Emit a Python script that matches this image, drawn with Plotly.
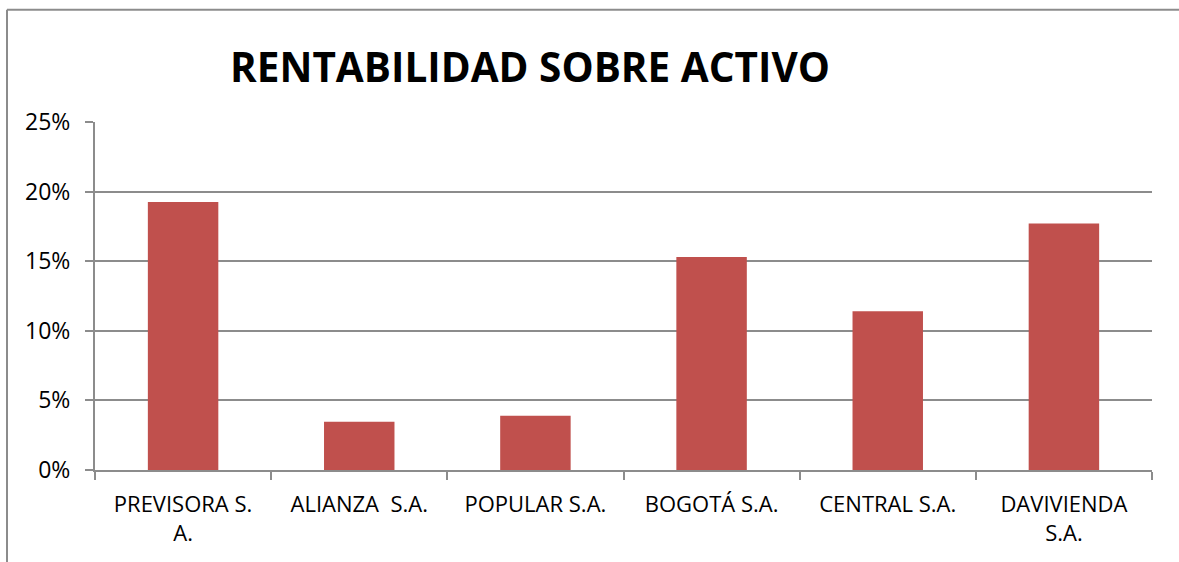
import plotly.graph_objects as go

categories = ["PREVISORA S.<br>A.", "ALIANZA  S.A.", "POPULAR S.A.", "BOGOTÁ S.A.", "CENTRAL S.A.", "DAVIVIENDA<br>S.A."]
values = [0.1925, 0.0346, 0.039, 0.153, 0.114, 0.177]
y_ticks = [0, 0.05, 0.10, 0.15, 0.20, 0.25]
y_tick_labels = ["0%", "5%", "10%", "15%", "20%", "25%"]

W, H = 1179, 562
L, R, T, B = 95, 27, 121.5, 92
pw, ph = W - L - R, H - T - B

fig = go.Figure(go.Bar(x=categories, y=values, marker=dict(color="#C0504D", line=dict(width=0)), width=0.4))

grid = "#8c8c8c"
fig.update_layout(
    width=W, height=H, margin=dict(l=L, r=R, t=T, b=B, autoexpand=False),
    paper_bgcolor="white", plot_bgcolor="white", showlegend=False,
    font=dict(family="Open Sans", color="black"),
    title=dict(text="<b>RENTABILIDAD SOBRE ACTIVO</b>", x=(530 - L) / pw, xanchor="center", xref="paper",
               y=1 - 68 / H, yanchor="middle", yref="container",
               font=dict(family="Open Sans", size=40.5, color="black")),
)
fig.update_xaxes(showgrid=False, showline=True, linecolor=grid, linewidth=2, ticks="outside",
                 tickson="boundaries", ticklen=8, tickcolor=grid, tickwidth=2,
                 tickfont=dict(size=22, family="Open Sans"), tickangle=0, ticklabelstandoff=14)
fig.update_yaxes(range=[0, 0.25], tickvals=y_ticks, ticktext=y_tick_labels, showgrid=True,
                 gridcolor=grid, gridwidth=2, showline=True, linecolor=grid, linewidth=2,
                 ticks="outside", ticklen=8, tickcolor=grid, tickwidth=2,
                 tickfont=dict(size=23, family="Open Sans"), zeroline=False, ticklabelstandoff=10)

bx = (7 - L) / pw
by = 1 + (T - 9) / ph
fig.add_shape(type="line", xref="paper", yref="paper", x0=bx, x1=bx, y0=-1, y1=by, line=dict(color=grid, width=2))
fig.add_shape(type="line", xref="paper", yref="paper", x0=bx, x1=2, y0=by, y1=by, line=dict(color=grid, width=2))

fig.write_html("out.html", config={"displayModeBar": False}, post_script="document.body.style.margin='0';")
